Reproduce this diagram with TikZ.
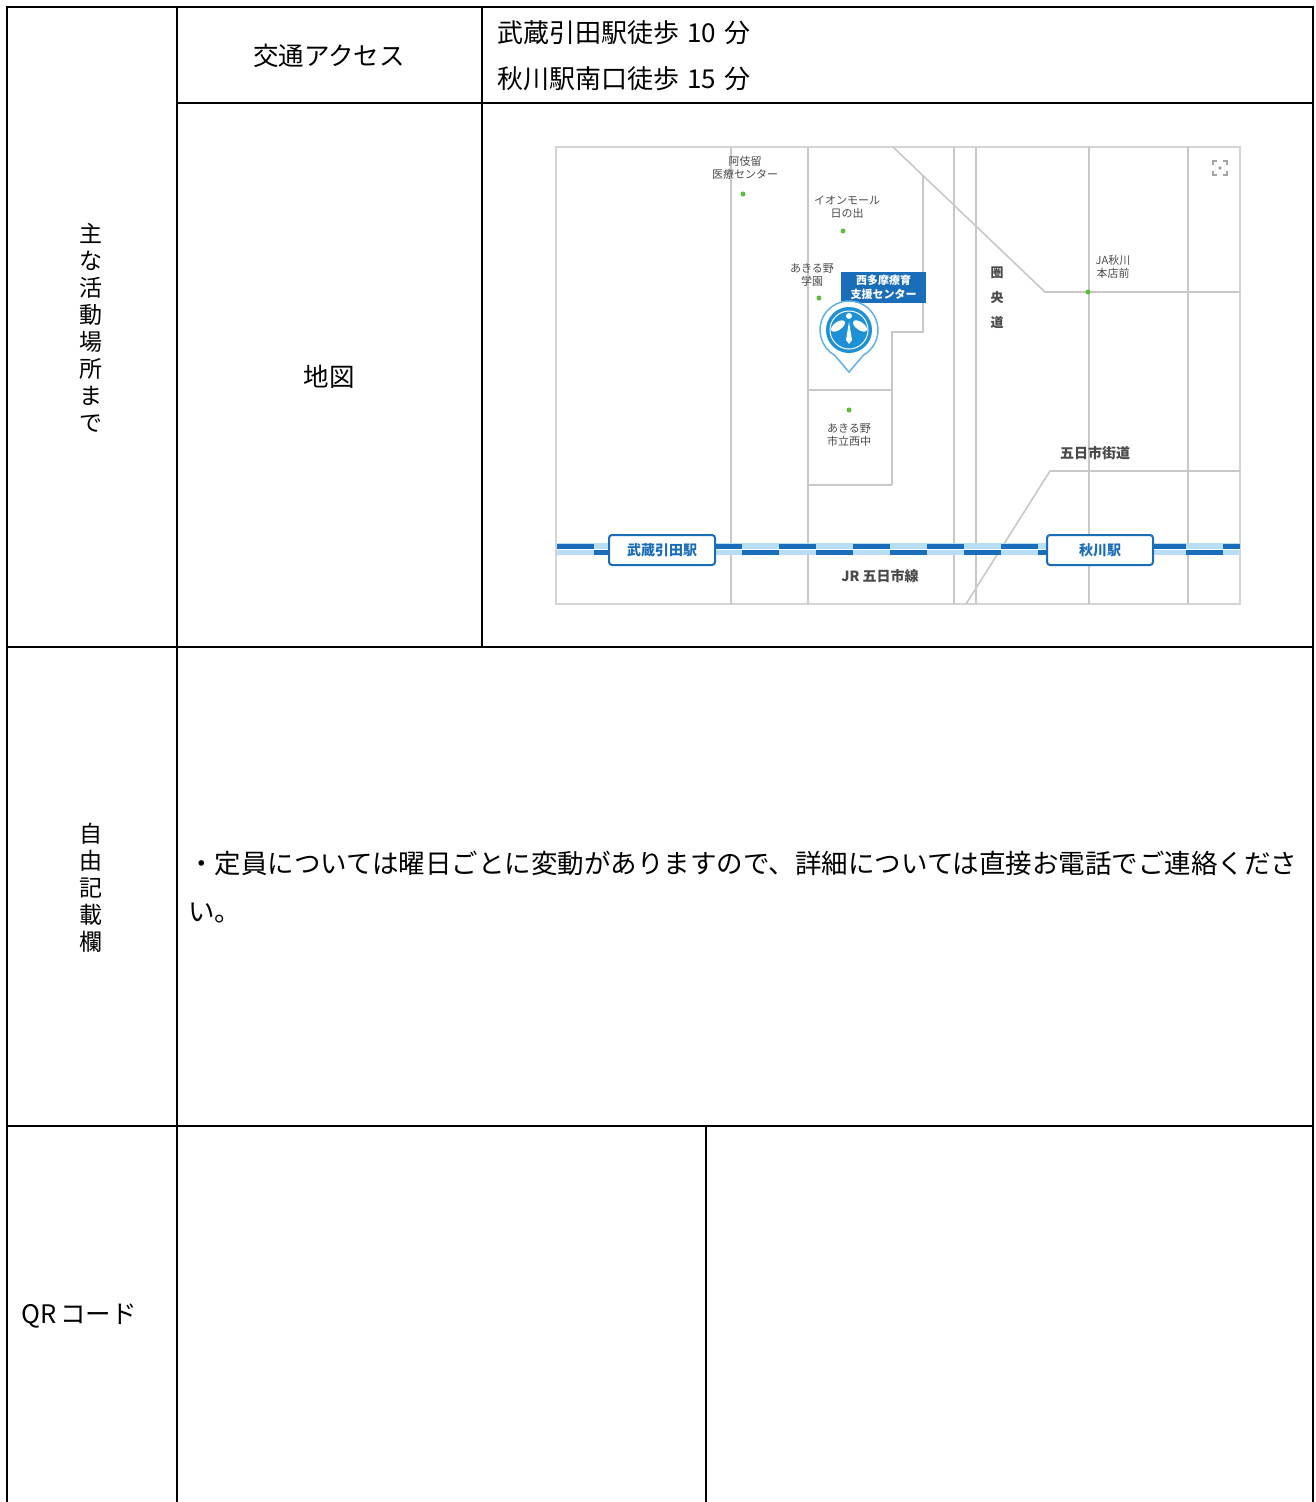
\documentclass[tikz,border=0pt]{standalone}
\usepackage{fontspec}
\setmainfont{Noto Sans CJK JP}
\definecolor{roadgray}{HTML}{C8C8C8}
\definecolor{mapborder}{HTML}{D4D4D4}
\definecolor{lblgray}{HTML}{4A4A4A}
\definecolor{railblue}{HTML}{1A6DB8}
\definecolor{raillight}{HTML}{B9DDF4}
\definecolor{pinblue}{HTML}{1E90D6}
\definecolor{poigreen}{HTML}{5CBF3A}
\tikzset{
  tbl/.style={line width=2.4pt, black},
  road/.style={draw=roadgray, line width=1.6pt},
  cell/.style={font=\fontsize{25.5}{30}\selectfont, inner sep=0pt},
  vcell/.style={font=\fontsize{23}{27}\selectfont, inner sep=0pt, align=center},
  maplbl/.style={font=\fontsize{11}{13.5}\selectfont, text=lblgray, align=center, inner sep=0pt},
  poi/.style={circle, fill=poigreen, minimum size=5pt, inner sep=0pt},
  station/.style={draw=railblue, line width=2pt, rounded corners=3pt, fill=white, text=railblue,
    minimum width=106pt, minimum height=30pt, inner sep=0pt, font=\fontsize{14}{16}\selectfont\bfseries},
}
\begin{document}
\begin{tikzpicture}[x=1pt,y=-1pt]
\useasboundingbox (0,0) rectangle (1316,1502);
\fill[white] (0,0) rectangle (1316,1502);

% ---------- table grid ----------
\draw[tbl] (7,1510) -- (7,7) -- (1313,7) -- (1313,1510);
\draw[tbl] (177,7) -- (177,1510);
\draw[tbl] (482,7) -- (482,647);
\draw[tbl] (177,103) -- (1313,103);
\draw[tbl] (7,647) -- (1313,647);
\draw[tbl] (7,1126) -- (1313,1126);
\draw[tbl] (706,1126) -- (706,1510);

% ---------- table texts ----------
\node[cell] (access) at (329,56) {交通アクセス};
\node[cell, font=\fontsize{26}{30}\selectfont, anchor=west] (walk1) at (497,33) {武蔵引田駅徒歩\hspace{8pt}10\hspace{8pt}分};
\node[cell, font=\fontsize{26}{30}\selectfont, anchor=west] (walk2) at (497,79) {秋川駅南口徒歩\hspace{8pt}15\hspace{8pt}分};
\node[cell] (maplabel) at (329,377) {地図};
\node[vcell] (place) at (91,328) {主\\な\\活\\動\\場\\所\\ま\\で};
\node[vcell] (free) at (91,888) {自\\由\\記\\載\\欄};
\node[cell, font=\fontsize{26.5}{30}\selectfont, anchor=west] (note1) at (188,863) {・定員については曜日ごとに変動がありますので、詳細については直接お電話でご連絡くださ};
\node[cell, font=\fontsize{26.5}{30}\selectfont, anchor=west] (note2) at (188,913) {い。};
\node[cell, anchor=west] (qr) at (21,1316) {QR\hspace{4pt}コード};

% ---------- map ----------
\draw[mapborder, line width=2pt] (556,147) rectangle (1240,604);
\draw[road] (731,147) -- (731,604);
\draw[road] (808,147) -- (808,604);
\draw[road] (954,147) -- (954,604);
\draw[road] (976,147) -- (976,604);
\draw[road] (1089,147) -- (1089,604);
\draw[road] (1188,147) -- (1188,604);
\draw[road] (893,147) -- (1045,292) -- (1240,292);
\draw[road] (923,176) -- (923,332) -- (892,332) -- (892,485);
\draw[road] (808,390) -- (892,390);
\draw[road] (808,485) -- (892,485);
\draw[road] (966,604) -- (1050,471) -- (1240,471);

% railway
\fill[raillight] (557,543) rectangle (1240,555);
\fill[white] (557,548.6) rectangle (1240,549.4);
\draw[railblue, line width=5pt, dash pattern=on 37pt off 37pt] (557,546) -- (1240,546);
\draw[railblue, line width=5pt, dash pattern=on 37pt off 37pt, dash phase=37pt] (557,552) -- (1240,552);
\node[station] (hikida) at (662,550) {武蔵引田駅};
\node[station] (akigawa) at (1100,550) {秋川駅};
\node[maplbl, font=\fontsize{14}{16}\selectfont\bfseries] (jr) at (880,576) {JR 五日市線};

% POIs
\node[maplbl] (med) at (745,168) {阿伎留\\医療センター};
\node[poi] (medpt) at (743,194) {};
\node[maplbl] (aeon) at (847,207) {イオンモール\\日の出};
\node[poi] (aeonpt) at (843,231) {};
\node[maplbl] (gakuen) at (812,275) {あきる野\\学園};
\node[poi] (gakuenpt) at (819,298) {};
\node[fill=railblue, text=white, align=center, inner sep=0pt, minimum width=85pt, minimum height=31pt,
  font=\fontsize{11}{13.5}\selectfont\bfseries] (center) at (883.5,287.5) {西多摩療育\\支援センター};
\node[maplbl] (ja) at (1113,267) {JA秋川\\本店前};
\node[poi] (japt) at (1088,292) {};
\node[maplbl, font=\fontsize{13}{25}\selectfont\bfseries] (kenodo) at (997,298) {圏\\央\\道};
\node[poi] (nishipt) at (849,410) {};
\node[maplbl] (nishi) at (849,435) {あきる野\\市立西中};
\node[maplbl, font=\fontsize{14}{16}\selectfont\bfseries] (kaido) at (1095,453) {五日市街道};

% location pin
\coordinate (pinc) at (849,330);
\fill[white] ([shift={(120:29)}]pinc) arc (120:420:29) -- (849,372) -- cycle;
\draw[pinblue!70!white, line width=1.5pt] ([shift={(120:29)}]pinc) arc (120:420:29)
  -- (849,372) -- cycle;
\fill[pinblue] (pinc) circle (23);
\draw[white, line width=1pt] (pinc) circle (19);
\fill[white, rotate around={35:(838,326)}] (838,326) ellipse (8 and 4);
\fill[white, rotate around={-35:(860,326)}] (860,326) ellipse (8 and 4);
\fill[white] (849,316) circle (3);
\fill[white] (849,322) -- (846,340) -- (849,344) -- (852,340) -- cycle;

% fullscreen icon
\begin{scope}[shift={(1220,168)}, draw=lblgray!50!white, line width=1.2pt]
  \draw (-7,-3) -- (-7,-7) -- (-3,-7);
  \draw (3,-7) -- (7,-7) -- (7,-3);
  \draw (7,3) -- (7,7) -- (3,7);
  \draw (-3,7) -- (-7,7) -- (-7,3);
  \fill[lblgray!50!white] (0,0) circle (1.8);
\end{scope}
\end{tikzpicture}
\end{document}
